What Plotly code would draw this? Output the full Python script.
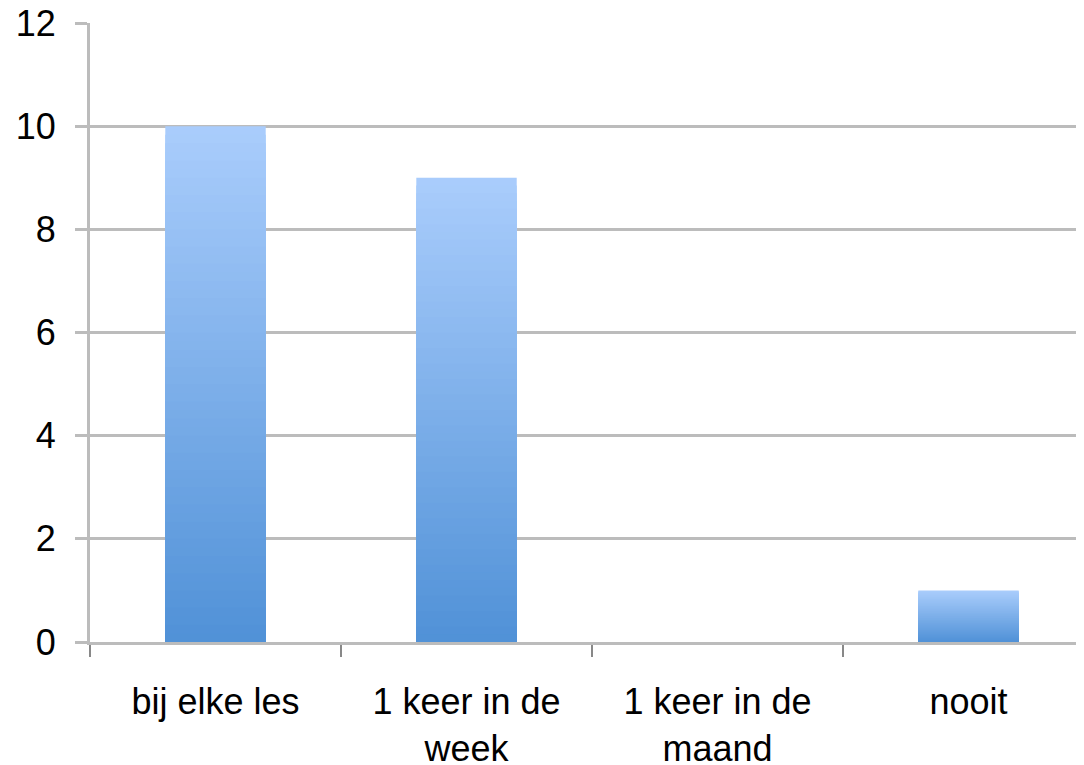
import plotly.graph_objects as go

categories = ["bij elke les", "1 keer in de<br>week", "1 keer in de<br>maand", "nooit"]
values = [10, 9, 0, 1]
y_ticks = [0, 2, 4, 6, 8, 10, 12]

TOP = (170, 205, 252)
BOTTOM = (80, 145, 215)
N = 60

fig = go.Figure()
# draw nested segments from full height (top colour) down to the smallest (bottom colour)
for j in range(N, 0, -1):
    t = (j - 0.5) / N  # 1 top -> 0 bottom
    c = tuple(round(BOTTOM[i] + (TOP[i] - BOTTOM[i]) * t) for i in range(3))
    fig.add_trace(go.Bar(
        x=categories,
        y=[v * j / N for v in values],
        width=0.4,
        marker=dict(color="rgb(%d,%d,%d)" % c, line=dict(width=0)),
        showlegend=False,
        hoverinfo="skip",
    ))

grid = "#bcbcbc"
fig.update_layout(
    width=1084, height=765,
    margin=dict(l=82, r=8, t=15, b=131),
    paper_bgcolor="white", plot_bgcolor="white",
    barmode="overlay",
    font=dict(family="Liberation Sans, Arial", size=36, color="black"),
)
fig.update_xaxes(
    type="category",
    range=[-0.5, 3.46],
    tickson="boundaries",
    ticks="outside", ticklen=12, tickwidth=1.5, tickcolor="#888888",
    showline=True, linecolor=grid, linewidth=3,
    showgrid=False,
    tickfont=dict(size=36),
    ticklabelstandoff=26,
    ticklabeloverflow="allow",
    automargin=False,
)
fig.update_yaxes(
    range=[0, 12],
    tickvals=y_ticks,
    ticks="outside", ticklen=12, tickwidth=3, tickcolor=grid,
    showline=True, linecolor=grid, linewidth=3,
    showgrid=True, gridcolor=grid, gridwidth=2.5,
    zeroline=False,
    tickfont=dict(size=36),
    ticklabelstandoff=12,
    ticklabeloverflow="allow",
    automargin=False,
)
fig.write_html("out.html")
